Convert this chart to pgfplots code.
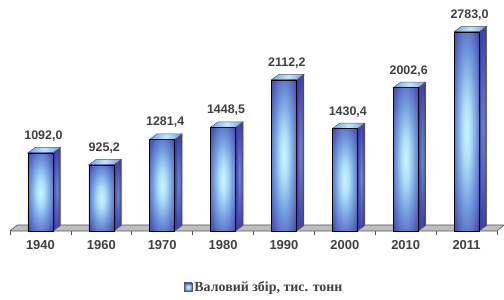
\documentclass[border=0pt]{standalone}
\usepackage{pgfplots}
\pgfplotsset{compat=1.18}
\usepackage{pgfplotstable}
\usepackage{fontspec}
\setmainfont{Liberation Sans}
\newfontfamily\legfont{Liberation Serif}
\definecolor{bardark}{RGB}{60,68,168}
\definecolor{bardark2}{RGB}{74,86,180}
\definecolor{barmid}{RGB}{112,152,220}
\definecolor{barlight2}{RGB}{172,224,246}
\definecolor{barlight}{RGB}{206,244,252}
\definecolor{sideA}{RGB}{112,132,212}
\definecolor{sideB}{RGB}{62,66,166}
\definecolor{sideC}{RGB}{52,56,150}
\definecolor{topA}{RGB}{110,160,228}
\definecolor{topB}{RGB}{190,234,250}
\definecolor{edgegray}{RGB}{90,90,90}
\definecolor{floorgray}{RGB}{190,190,190}
\definecolor{labelgray}{RGB}{64,64,64}
\pgfdeclareradialshading{barshade}{\pgfpoint{0bp}{0bp}}{color(0bp)=(barlight); color(8bp)=(barlight2); color(20bp)=(barmid); color(32bp)=(bardark2); color(44bp)=(bardark); color(50bp)=(bardark)}
\pgfdeclareradialshading{sideshade}{\pgfpoint{0bp}{0bp}}{color(0bp)=(sideA); color(25bp)=(sideB); color(50bp)=(sideC)}
\pgfdeclareplotmark{nothing}{}
\pgfplotstableread{
x y
0 1092.0
1 925.2
2 1281.4
3 1448.5
4 2112.2
5 1430.4
6 2002.6
7 2783.0
}\datatable
\pgfplotstableread{
x y
-0.5 0
7.5 0
7.615 84
-0.385 84
-0.5 0
}\floortable
\begin{document}
\begin{tikzpicture}
\begin{axis}[
  scale only axis, width=487bp, y=0.0716bp,
  xmin=-0.5, xmax=7.5, ymin=0, ymax=3226,
  clip=false,
  axis y line=none, axis x line*=bottom,
  x axis line style={draw=none},
  xtick={0,...,7},
  xticklabels={1940,1960,1970,1980,1990,2000,2010,2011},
  major x tick style={draw=none},
  minor xtick={-0.5,0.5,...,7.5},
  minor x tick style={draw=edgegray, line width=0.6bp},
  minor tick length=4bp, major tick length=0bp, tick align=outside,
  xticklabel style={font=\fontsize{13}{15}\selectfont\bfseries, text=labelgray, inner sep=0pt, anchor=north, yshift=-9bp},
  legend style={at={(0.522,-0.2424)}, anchor=center, draw=none, fill=none,
    font=\legfont\fontsize{14}{16}\selectfont\bfseries, text=labelgray},
  legend image code/.code={\draw[shading=barshade, draw=edgegray, line width=0.5bp] (0bp,-4bp) rectangle (8bp,4bp);},
]
\addplot[forget plot, fill=floorgray, draw=edgegray, line width=0.6bp] table {\floortable};
\addplot[forget plot, scatter, only marks, mark=nothing,
  visualization depends on={\thisrow{y} \as \rawy},
  scatter/@pre marker code/.code={%
    \pgfmathsetlengthmacro\ybot{-\rawy*0.0716bp}%
    \pgfmathsetlengthmacro\ybotb{-\rawy*0.0716bp+5.5bp}%
    \shade[shading=sideshade, draw=edgegray, line width=0.5bp] (12.5bp,0bp) -- (20bp,5.5bp) -- (20bp,\ybotb) -- (12.5bp,\ybot) -- cycle;
    \shade[left color=topA, right color=topA, middle color=topB, draw=edgegray, line width=0.5bp] (-12.5bp,0bp) -- (-5bp,5.5bp) -- (20bp,5.5bp) -- (12.5bp,0bp) -- cycle;
    \shade[shading=barshade] (-12.5bp,\ybot) rectangle (12.5bp,0bp);
  },
  scatter/@post marker code/.code={},
] table {\datatable};
\addplot[ybar, bar width=25bp, fill=none, draw=edgegray, line width=0.5bp,
  point meta=y,
  nodes near coords={\pgfmathprintnumber[fixed, fixed zerofill, precision=1, use comma, 1000 sep={}, assume math mode=true]{\pgfplotspointmeta}},
  every node near coord/.append style={font=\fontsize{12.5}{14}\selectfont\bfseries, text=labelgray, anchor=base, inner sep=0pt, yshift=13.5bp, xshift=3bp},
] table {\datatable};
\addlegendentry{Валовий збір, тис. тонн}
\end{axis}
\pgfresetboundingbox
\useasboundingbox (-10bp,-69bp) rectangle (494bp,231bp);
\end{tikzpicture}
\end{document}
